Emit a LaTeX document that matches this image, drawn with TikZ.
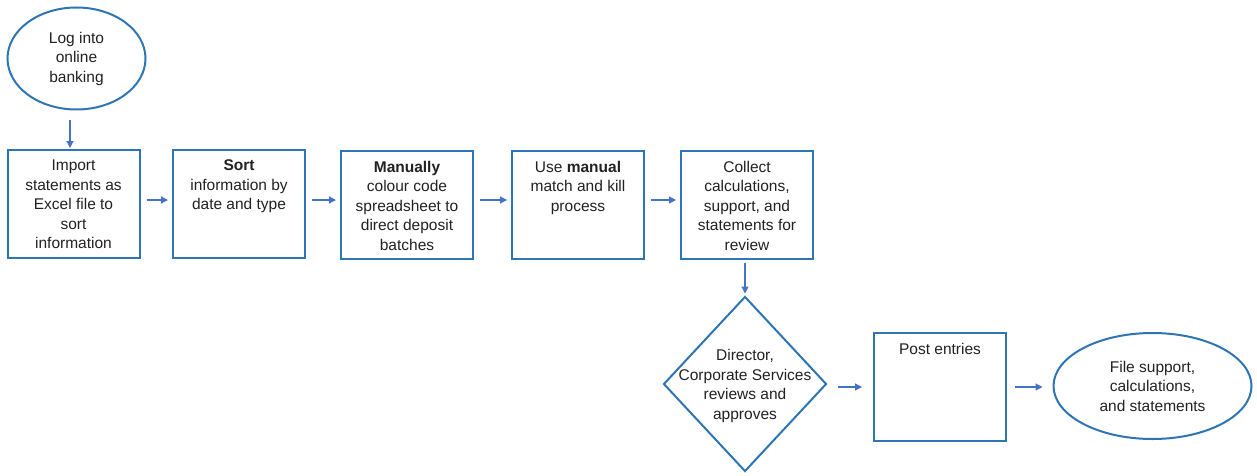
\documentclass[tikz,border=0pt]{standalone}
\usepackage{fontspec}
\setmainfont{Liberation Sans}
\usetikzlibrary{shapes.geometric,arrows.meta}
\definecolor{shapeblue}{RGB}{46,117,182}
\definecolor{arrowblue}{RGB}{68,114,196}
\definecolor{ink}{RGB}{34,34,34}
\newcommand{\boxtext}[1]{\parbox[c][108pt][t]{132pt}{\vspace*{10pt}\centering #1}}
\tikzset{
  every node/.style={text=ink, font=\fontsize{15.5}{19.5}\selectfont},
  stepbox/.style={draw=shapeblue, line width=2pt, rectangle, inner sep=0pt,
                  minimum width=132pt, minimum height=108pt},
  terminal/.style={draw=shapeblue, line width=2pt, ellipse, inner sep=0pt, align=center},
  decision/.style={draw=shapeblue, line width=2pt, diamond, inner sep=0pt,
                   minimum width=163pt, minimum height=175pt},
  arr/.style={draw=arrowblue, line width=1.2pt, -{Triangle[length=7pt,width=7pt]}},
}
\begin{document}
\begin{tikzpicture}[x=1pt,y=-1pt]
\path[use as bounding box, fill=white] (0,0) rectangle (1257,476);

% start
\node[terminal, minimum width=138pt, minimum height=102pt] (e1) at (76.5,58.5)
  {Log into\\online\\banking};

% main row of steps
\node[stepbox] (b1) at (73.5,204) {\boxtext{Import\\statements as\\Excel file to\\sort\\information}};
\node[stepbox] (b2) at (239,204) {\boxtext{\textbf{Sort}\\information by\\date and type}};
\node[stepbox] (b3) at (407,205) {\boxtext{\textbf{Manually}\\colour code\\spreadsheet to\\direct deposit\\batches}};
\node[stepbox] (b4) at (578,205) {\boxtext{Use \textbf{manual}\\match and kill\\process}};
\node[stepbox] (b5) at (747,205) {\boxtext{Collect\\calculations,\\support, and\\statements for\\review}};

% approval, posting and filing
\node[decision] (d) at (745,384) {};
\node[align=center, inner sep=0pt] (dtext) at (745,386)
  {Director,\\Corporate Services\\reviews and\\approves};
\node[stepbox] (p) at (940,387) {\boxtext{Post entries}};
\node[terminal, minimum width=198pt, minimum height=106pt] (e2) at (1152.5,386)
  {File support,\\calculations,\\and statements};

% connectors
\draw[arr, shorten <=10pt, shorten >=1pt]
  ([xshift=-3.5pt]b1.north |- e1.south) -- ([xshift=-3.5pt]b1.north);
\draw[arr, shorten <=6pt, shorten >=4pt] ([yshift=4pt]b1.east) -- ([yshift=4pt]b2.west);
\draw[arr, shorten <=6pt, shorten >=4pt] ([yshift=4pt]b2.east) -- ([yshift=5pt]b3.west);
\draw[arr, shorten <=6pt, shorten >=4pt] ([yshift=5pt]b3.east) -- ([yshift=5pt]b4.west);
\draw[arr, shorten <=6pt, shorten >=4pt] ([yshift=5pt]b4.east) -- ([yshift=5pt]b5.west);
\draw[arr, shorten <=3pt, shorten >=2pt] (d.north |- b5.south) -- (d.north);
\draw[arr, shorten <=10pt, shorten >=11pt] (p.west -| d.east) -- (p.west);
\draw[arr, shorten <=8pt, shorten >=10pt] (p.east) -- (p.east -| e2.west);
\end{tikzpicture}
\end{document}
